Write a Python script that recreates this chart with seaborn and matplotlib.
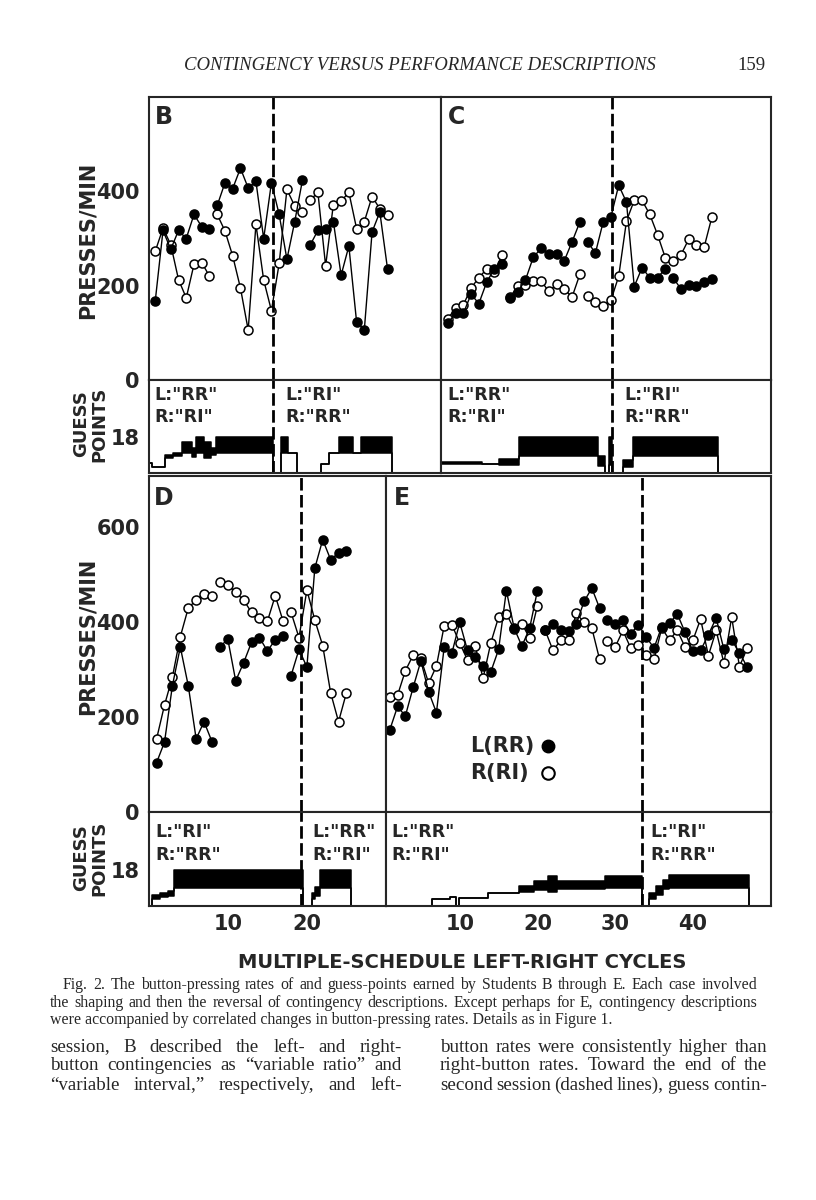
import numpy as np
import pandas as pd
import seaborn as sns
import matplotlib
matplotlib.use('Agg')
import matplotlib.pyplot as plt

W, H = 816, 1200

# presses/min, cycles 1..n
b_left = [168, 317, 277, 317, 300, 351, 325, 320, 370, 418, 406, 449, 407, 421, 300, 418,
          351, 256, 335, 423, 286, 317, 320, 336, 222, 284, 123, 107, 314, 356, 235]
b_right = [273, 322, 287, 213, 174, 245, 249, 220, 351, 316, 263, 195, 106, 330, 212, 147,
           247, 404, 369, 356, 381, 398, 242, 372, 379, 398, 321, 336, 389, 363, 349]
b_breaks_l = [9, 21]
b_breaks_r = [9, 21]

c_left = [121, 141, 141, 182, 162, 207, 236, 245, 173, 187, 212, 260, 279, 268, 268, 253,
          293, 335, 293, 269, 335, 346, 413, 377, 198, 238, 217, 217, 236, 217, 193, 202,
          200, 208, 215]
c_right = [130, 152, 159, 195, 217, 235, 228, 266, 175, 199, 201, 210, 210, 188, 203, 192,
           176, 224, 178, 166, 157, 169, 220, 337, 381, 381, 351, 308, 259, 252, 265, 298,
           287, 282, 346]
c_breaks_l = [9, 19, 30]
c_breaks_r = [9, 19]

d_left = [104, 147, 266, 347, 266, 154, 190, 148, 347, 364, 276, 314, 357, 367, 339, 362,
          371, 287, 342, 305, 513, 573, 531, 545, 549]
d_right = [154, 225, 284, 369, 429, 446, 459, 455, 485, 478, 462, 446, 420, 408, 401, 455,
           401, 420, 367, 467, 404, 350, 251, 190, 251]
d_breaks_l = [9, 18]
d_breaks_r = [9, 18]

e_left = [173, 222, 202, 262, 318, 253, 209, 347, 335, 399, 340, 327, 307, 295, 342, 466,
          387, 349, 387, 466, 383, 396, 382, 380, 396, 443, 471, 429, 404, 396, 403, 375,
          394, 368, 345, 390, 397, 417, 378, 338, 340, 373, 408, 342, 362, 335, 305]
e_right = [243, 246, 297, 330, 323, 271, 307, 392, 394, 355, 320, 349, 281, 356, 410, 417,
           385, 396, 366, 434, 382, 340, 361, 361, 418, 399, 387, 321, 359, 347, 382, 345,
           352, 331, 321, 387, 362, 382, 347, 361, 406, 329, 382, 313, 410, 306, 345]
e_breaks_l = [21, 29]
e_breaks_r = [21, 29]

# guess-point strips: step edges (cycles), upper and lower edge of the black band
b_g_edges = [0.06, 0.6, 2.2, 3.3, 4.4, 5.7, 6.3, 7.3, 8.2, 8.9, 16.2, 17.3, 18.2, 19.3,
             22.4, 23.5, 24.7, 26.5, 27.6, 31.6]
b_g_hi = [4.8, 3.2, 8.9, 10, 15.3, 12.4, 18, 15.3, 12.4, 18, 0, 18, 10, 0, 4.5, 10, 18, 10, 18]
b_g_lo = [4.8, 3.2, 7.5, 8.3, 10, 8, 10, 7.5, 9, 10, 0, 10, 10, 0, 4.5, 10, 10, 10, 10]

c_g_edges = [0.1, 5.4, 7.6, 10.2, 20.3, 21.3, 21.7, 22.2, 23.6, 24.8, 35.8]
c_g_hi = [5.6, 4.5, 6.8, 18, 8.4, 0, 18, 0, 6.4, 18]
c_g_lo = [4.5, 4.5, 4.1, 8.4, 3.7, 0, 4, 0, 3.2, 8.4]

d_g_edges = [0.38, 1.43, 2.5, 3.25, 19.5, 20.6, 21.05, 21.6, 25.6]
d_g_hi = [5.4, 6.2, 7.4, 18, 0, 6.2, 9.6, 18]
d_g_lo = [3.7, 4.5, 5, 8.7, 0, 3.7, 5, 8.7]

e_g_edges = [6.4, 8.7, 9.5, 9.9, 13.7, 17.6, 19.6, 21.4, 22.5, 28.7, 33.4, 34.3, 35.2,
             36.1, 36.9, 47.2]
e_g_hi = [3.3, 4.6, 0, 4.1, 6.5, 9.8, 12.3, 15, 12.3, 15, 0, 6.5, 9.8, 12.8, 15.5]
e_g_lo = [3.3, 4.6, 0, 4.1, 6.5, 6.9, 7.9, 6.9, 8.5, 9, 0, 3.3, 5.7, 8.5, 9]

rev = {'B': 16.2, 'C': 22.2, 'D': 19.3, 'E': 33.4}
xlims = {'B': (0.19, 37.9), 'C': (0.13, 42.6), 'D': (0.04, 30.0), 'E': (0.51, 50.06)}

sns.set_style('white')
plt.rcParams['font.family'] = ['DejaVu Sans']
plt.rcParams['axes.linewidth'] = 1.5

fig = plt.figure(figsize=(W / 100, H / 100), dpi=100)


def add_ax(x0, y0, x1, y1):
    return fig.add_axes([x0 / W, 1 - y1 / H, (x1 - x0) / W, (y1 - y0) / H])


def rate_frame(left, right, brk_l, brk_r):
    rows = []
    for key, vals, brk in (('L', left, brk_l), ('R', right, brk_r)):
        seg = 0
        for i, v in enumerate(vals, start=1):
            if i in brk:
                seg += 1
            rows.append((key, i, v, f'{key}{seg}'))
    return pd.DataFrame(rows, columns=['key', 'cycle', 'rate', 'seg'])


def draw_rates(ax, df):
    for key, face in (('R', 'white'), ('L', 'black')):
        sns.lineplot(data=df[df.key == key], x='cycle', y='rate', units='seg',
                     estimator=None, sort=False, ax=ax, color='black', linewidth=1.0,
                     marker='o', markersize=6.5, markerfacecolor=face,
                     markeredgecolor='black', markeredgewidth=1.1, legend=False)
    ax.set_xlabel('')
    ax.set_ylabel('')


def draw_strip(ax, edges, hi, lo):
    xs = [edges[0]] + list(edges) + [edges[-1]]
    hs = [0] + list(hi) + [hi[-1], 0]
    ls = [0] + list(lo) + [lo[-1], 0]
    ax.fill_between(edges, list(hi) + [hi[-1]], list(lo) + [lo[-1]], step='post',
                    color='black', linewidth=0)
    ax.step(xs, hs, where='post', color='black', linewidth=1.1)
    ax.step(xs, ls, where='post', color='black', linewidth=1.1)


def dashed(ax, x):
    ax.axvline(x, color='black', linewidth=2.0, linestyle=(0, (4.5, 1.6)))


panels = {
    'B': ((149, 97, 441, 380), (149, 380, 441, 473), 600,
          rate_frame(b_left, b_right, b_breaks_l, b_breaks_r), (b_g_edges, b_g_hi, b_g_lo)),
    'C': ((441, 97, 771, 380), (441, 380, 771, 473), 600,
          rate_frame(c_left, c_right, c_breaks_l, c_breaks_r), (c_g_edges, c_g_hi, c_g_lo)),
    'D': ((149, 476, 386, 812), (149, 812, 386, 906), 707,
          rate_frame(d_left, d_right, d_breaks_l, d_breaks_r), (d_g_edges, d_g_hi, d_g_lo)),
    'E': ((386, 476, 771, 812), (386, 812, 771, 906), 707,
          rate_frame(e_left, e_right, e_breaks_l, e_breaks_r), (e_g_edges, e_g_hi, e_g_lo)),
}
xt = {'B': [10, 20, 30], 'C': [10, 20, 30, 40], 'D': [10, 20], 'E': [10, 20, 30, 40]}

for name, (rbox, gbox, ytop, df, strip) in panels.items():
    ax = add_ax(*rbox)
    gx = add_ax(*gbox)
    draw_rates(ax, df)
    draw_strip(gx, *strip)
    for a in (ax, gx):
        a.set_xlim(*xlims[name])
        dashed(a, rev[name])
        for s in a.spines.values():
            s.set_linewidth(1.5)
        a.set_xticks(xt[name])
        a.tick_params(axis='x', direction='in', length=6, width=1.3, labelbottom=False)
    ax.set_ylim(0, ytop)
    gx.set_ylim(0, 46.6)
    left = name in ('B', 'D')
    yt = [0, 200, 400] if ytop == 600 else [0, 200, 400, 600]
    ax.set_yticks(yt)
    gx.set_yticks([18])
    if left:
        ax.set_yticklabels([str(v) for v in yt], fontsize=15, fontweight='bold')
        gx.set_yticklabels(['18'], fontsize=15, fontweight='bold')
        for a in (ax, gx):
            a.tick_params(axis='y', direction='inout', length=11, width=1.4, pad=1)
    else:
        for a in (ax, gx):
            a.tick_params(axis='y', direction='in', length=6, width=1.3, labelleft=False)
    if name in ('D', 'E'):
        gx.tick_params(axis='x', labelbottom=True, labelsize=15, pad=6)
        for lab in gx.get_xticklabels():
            lab.set_fontweight('bold')
    ax.text(0.02, 0.97, name, transform=ax.transAxes, fontsize=17, fontweight='bold',
            ha='left', va='top')
    if name == 'E':
        ax.plot([21.4], [139], 'o', color='black', markersize=9, clip_on=False)
        ax.plot([21.4], [82], 'o', markerfacecolor='white', markeredgecolor='black',
                markeredgewidth=1.5, markersize=9, clip_on=False)


def ftext(px, py, s, **kw):
    return fig.text(px / W, 1 - py / H, s, **kw)


bold = dict(fontweight='bold', va='center')
strip_labels = [
    (154, 395, 417, 'L:"RR"', 'R:"RI"'), (285, 395, 417, 'L:"RI"', 'R:"RR"'),
    (447, 395, 417, 'L:"RR"', 'R:"RI"'), (624, 395, 417, 'L:"RI"', 'R:"RR"'),
    (155, 832, 855, 'L:"RI"', 'R:"RR"'), (312, 832, 855, 'L:"RR"', 'R:"RI"'),
    (391, 832, 855, 'L:"RR"', 'R:"RI"'), (650, 832, 855, 'L:"RI"', 'R:"RR"'),
]
for px, y1, y2, t1, t2 in strip_labels:
    ftext(px, y1, t1, fontsize=12.5, ha='left', **bold)
    ftext(px, y2, t2, fontsize=12.5, ha='left', **bold)

ftext(470, 746, 'L(RR)', fontsize=15, ha='left', **bold)
ftext(470, 773, 'R(RI)', fontsize=15, ha='left', **bold)

for py in (240, 636):
    ftext(88, py, 'PRESSES/MIN', fontsize=15, rotation=90, ha='center', **bold)
for py in (424, 858):
    ftext(90, py, 'GUESS\nPOINTS', fontsize=13, rotation=90, ha='center',
          linespacing=1.0, multialignment='center', **bold)

ftext(462, 962, 'MULTIPLE-SCHEDULE LEFT-RIGHT CYCLES', fontsize=14, ha='center', **bold)

serif = 'Liberation Serif'
ftext(420, 66, 'CONTINGENCY VERSUS PERFORMANCE DESCRIPTIONS', family=serif,
      style='italic', fontsize=13.5, ha='center', va='center')
ftext(766, 66, '159', family=serif, fontsize=13.5, ha='right', va='center')

renderer = fig.canvas.get_renderer()


def justify(line, x0, x1, py, size):
    words = line.split()
    texts = [ftext(0, py, w, family=serif, fontsize=size, ha='left', va='center')
             for w in words]
    widths = [t.get_window_extent(renderer).width for t in texts]
    gap = (x1 - x0 - sum(widths)) / max(len(words) - 1, 1)
    x = x0
    for t, w in zip(texts, widths):
        t.set_x(x / W)
        x += w + gap


justify('Fig. 2.  The button-pressing rates of and guess-points earned by Students B '
        'through E. Each case involved', 63, 757, 985, 11.4)
justify('the shaping and then the reversal of contingency descriptions. Except perhaps '
        'for E, contingency descriptions', 50, 757, 1003, 11.4)
ftext(50, 1020, 'were accompanied by correlated changes in button-pressing rates. '
      'Details as in Figure 1.', family=serif, fontsize=11.4, ha='left', va='center')

left_col = ['session, B described the left- and right-',
            'button contingencies as \u201cvariable ratio\u201d and',
            '\u201cvariable interval,\u201d respectively, and left-']
right_col = ['button rates were consistently higher than',
             'right-button rates. Toward the end of the',
             'second session (dashed lines), guess contin-']
for i, (l, r) in enumerate(zip(left_col, right_col)):
    py = 1047 + 19 * i
    justify(l, 50, 402, py, 13.7)
    justify(r, 440, 767, py, 13.7)

fig.savefig('out.png', dpi=100)
